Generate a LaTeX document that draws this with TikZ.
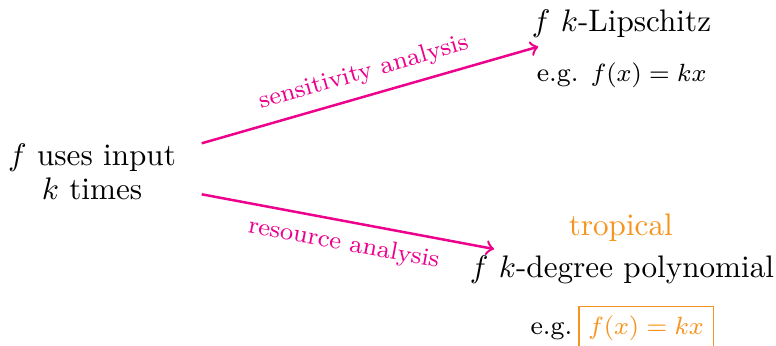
\documentclass[tikz,border=0pt]{standalone}
\definecolor{pinkmag}{RGB}{236,0,140}
\definecolor{troporange}{RGB}{247,148,30}
\newcommand{\egsize}{\fontsize{8.4}{10}\selectfont}
\begin{document}
\begin{tikzpicture}[x=0.321pt,y=-0.321pt,
  arr/.style={->,thick,pinkmag},
  lab/.style={font=\footnotesize,text=pinkmag,sloped},
  txt/.style={inner sep=0pt,anchor=base}]
\useasboundingbox (0,0) rectangle (776,345);
\node[align=center,inner sep=0pt] (src) at (92,172) {$f$ uses input\\[-1.3pt]$k$ times};
\node[txt] (lip) at (621.5,31.7) {$f$ $k$-Lipschitz};
\node[txt,font=\egsize] (lipeg) at (621.7,81.7) {e.g. $f(x)=kx$};
\node[txt,text=troporange] (trop) at (620.8,235) {tropical};
\node[txt] (poly) at (622,277) {$f$ $k$-degree polynomial};
\node[txt,anchor=base west,font=\egsize] (polyeg) at (530,334.3) {e.g.};
\node[anchor=base west,font=\egsize,draw=troporange,text=troporange,inner sep=3pt] (box) at (578.3,334.3) {$f(x)=kx$};
\draw[arr] ([shift={(109.7,-28.7)}]src.center) -- node[lab,above] {sensitivity analysis} ([shift={(-83.2,15)}]lip.base);
\draw[arr] ([shift={(109.7,22.3)}]src.center) -- node[lab,below] {resource analysis} ([shift={(-128,-28)}]poly.base);
\end{tikzpicture}
\end{document}
